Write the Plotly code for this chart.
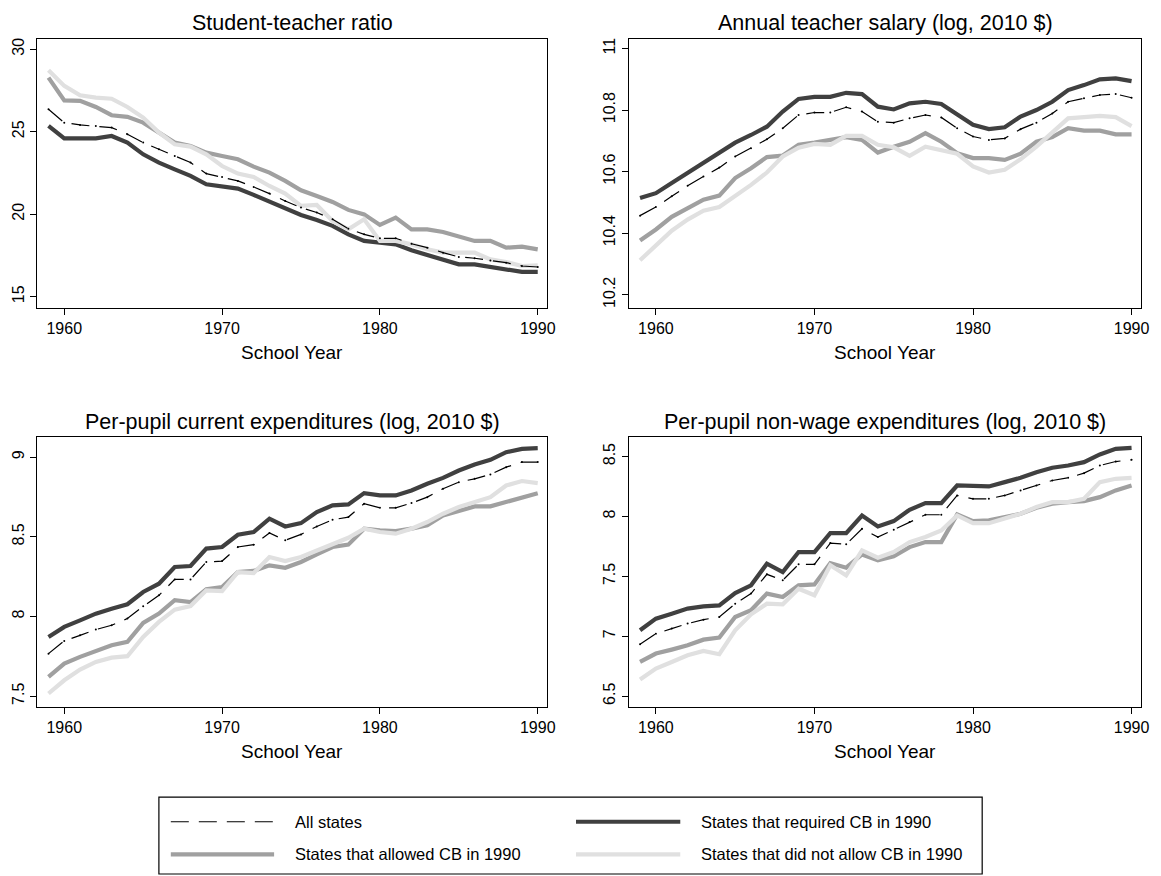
import plotly.graph_objects as go

years = list(range(1959, 1991))

series_names = ["All states", "States that required CB in 1990",
                "States that allowed CB in 1990", "States that did not allow CB in 1990"]

panel_titles = ["Student-teacher ratio", "Annual teacher salary (log, 2010 $)",
                "Per-pupil current expenditures (log, 2010 $)",
                "Per-pupil non-wage expenditures (log, 2010 $)"]
x_title = "School Year"
x_ticks = [1960, 1970, 1980, 1990]

y_ticks_1 = [15, 20, 25, 30]
y_ticks_2 = [10.2, 10.4, 10.6, 10.8, 11]
y_ticks_3 = [7.5, 8, 8.5, 9]
y_ticks_4 = [6.5, 7, 7.5, 8, 8.5]

# Panel 1: Student-teacher ratio
str_all = [26.36, 25.55, 25.41, 25.35, 25.25, 24.85, 24.34, 23.94, 23.53, 23.13, 22.46, 22.26,
           22.02, 21.65, 21.25, 20.80, 20.40, 20.10, 19.69, 19.12, 18.78, 18.54, 18.54, 18.21,
           17.97, 17.67, 17.41, 17.33, 17.20, 17.06, 16.86, 16.80]
str_req = [25.35, 24.60, 24.60, 24.60, 24.74, 24.34, 23.63, 23.13, 22.72, 22.32, 21.81, 21.71,
           21.55, 21.17, 20.76, 20.36, 19.95, 19.65, 19.29, 18.78, 18.38, 18.28, 18.17, 17.81,
           17.53, 17.20, 16.96, 16.96, 16.82, 16.66, 16.50, 16.50]
str_allow = [28.28, 26.90, 26.87, 26.50, 26.00, 25.90, 25.55, 24.95, 24.34, 24.14, 23.73, 23.53,
             23.33, 22.88, 22.52, 22.02, 21.45, 21.10, 20.74, 20.26, 19.99, 19.35, 19.79, 19.08,
             19.08, 18.92, 18.62, 18.38, 18.38, 17.97, 18.03, 17.87]
str_not = [28.73, 27.78, 27.21, 27.07, 27.00, 26.50, 25.86, 24.95, 24.24, 24.10, 23.63, 22.92,
           22.46, 22.26, 21.71, 21.25, 20.50, 20.56, 19.59, 19.08, 19.69, 18.38, 18.38, 18.17,
           17.87, 17.67, 17.67, 17.67, 17.26, 17.10, 16.86, 16.90]

# Panel 2: Annual teacher salary (log)
sal_all = [10.457, 10.485, 10.520, 10.554, 10.584, 10.613, 10.649, 10.676, 10.705, 10.741, 10.784,
           10.792, 10.792, 10.809, 10.795, 10.762, 10.759, 10.773, 10.784, 10.776, 10.741, 10.714,
           10.703, 10.708, 10.738, 10.759, 10.789, 10.827, 10.838, 10.849, 10.852, 10.840]
sal_req = [10.514, 10.530, 10.563, 10.595, 10.628, 10.660, 10.694, 10.719, 10.746, 10.795, 10.836,
           10.843, 10.843, 10.856, 10.852, 10.811, 10.802, 10.822, 10.827, 10.820, 10.784, 10.752,
           10.738, 10.744, 10.779, 10.800, 10.827, 10.865, 10.881, 10.900, 10.903, 10.894]
sal_allow = [10.376, 10.412, 10.453, 10.482, 10.509, 10.522, 10.579, 10.611, 10.647, 10.652, 10.687,
             10.694, 10.703, 10.712, 10.703, 10.662, 10.681, 10.697, 10.725, 10.697, 10.660, 10.644,
             10.644, 10.638, 10.658, 10.697, 10.712, 10.741, 10.733, 10.733, 10.721, 10.721]
sal_not = [10.312, 10.358, 10.408, 10.444, 10.473, 10.485, 10.520, 10.557, 10.597, 10.649, 10.678,
           10.690, 10.687, 10.716, 10.716, 10.687, 10.679, 10.651, 10.681, 10.671, 10.658, 10.617,
           10.597, 10.606, 10.640, 10.681, 10.725, 10.773, 10.777, 10.781, 10.777, 10.748]

# Panel 3: Per-pupil current expenditures (log)
cur_all = [7.767, 7.847, 7.882, 7.918, 7.945, 7.987, 8.064, 8.133, 8.233, 8.233, 8.342, 8.348,
           8.436, 8.451, 8.524, 8.478, 8.515, 8.565, 8.607, 8.624, 8.708, 8.682, 8.682, 8.712,
           8.749, 8.802, 8.843, 8.864, 8.891, 8.937, 8.969, 8.969]
cur_req = [7.872, 7.935, 7.976, 8.018, 8.049, 8.077, 8.154, 8.206, 8.311, 8.317, 8.426, 8.436,
           8.513, 8.530, 8.614, 8.565, 8.586, 8.655, 8.697, 8.703, 8.774, 8.760, 8.760, 8.791,
           8.833, 8.870, 8.916, 8.954, 8.983, 9.031, 9.052, 9.056]
cur_allow = [7.621, 7.705, 7.747, 7.784, 7.820, 7.841, 7.960, 8.018, 8.102, 8.091, 8.171, 8.185,
             8.279, 8.286, 8.321, 8.306, 8.342, 8.390, 8.436, 8.451, 8.551, 8.540, 8.536, 8.551,
             8.572, 8.634, 8.660, 8.691, 8.691, 8.718, 8.743, 8.774]
cur_not = [7.517, 7.600, 7.667, 7.715, 7.742, 7.751, 7.872, 7.966, 8.043, 8.066, 8.164, 8.160,
           8.279, 8.273, 8.373, 8.348, 8.373, 8.415, 8.453, 8.494, 8.551, 8.530, 8.520, 8.551,
           8.593, 8.645, 8.687, 8.718, 8.749, 8.822, 8.850, 8.837]

# Panel 4: Per-pupil non-wage expenditures (log)
nw_all = [6.933, 7.022, 7.064, 7.106, 7.139, 7.161, 7.272, 7.356, 7.517, 7.467, 7.600, 7.600,
          7.778, 7.767, 7.897, 7.828, 7.889, 7.953, 8.014, 8.014, 8.175, 8.147, 8.147, 8.175,
          8.217, 8.258, 8.300, 8.322, 8.361, 8.425, 8.458, 8.472]
nw_req = [7.050, 7.147, 7.189, 7.231, 7.250, 7.258, 7.361, 7.425, 7.606, 7.536, 7.703, 7.703,
          7.861, 7.861, 8.008, 7.917, 7.961, 8.056, 8.111, 8.111, 8.258, 8.250, 8.250, 8.286,
          8.322, 8.369, 8.406, 8.425, 8.453, 8.517, 8.564, 8.572]
nw_allow = [6.786, 6.856, 6.889, 6.925, 6.972, 6.989, 7.161, 7.217, 7.356, 7.328, 7.425, 7.433,
            7.611, 7.572, 7.683, 7.633, 7.667, 7.744, 7.786, 7.786, 8.017, 7.961, 7.967, 7.994,
            8.022, 8.072, 8.106, 8.119, 8.128, 8.161, 8.217, 8.258]
nw_not = [6.639, 6.731, 6.786, 6.842, 6.878, 6.850, 7.050, 7.183, 7.272, 7.267, 7.397, 7.342,
          7.592, 7.508, 7.717, 7.656, 7.703, 7.786, 7.828, 7.883, 8.008, 7.944, 7.944, 7.981,
          8.022, 8.078, 8.119, 8.119, 8.147, 8.286, 8.314, 8.322]

# ---------------------------------------------------------------- styling
W, H = 1161, 876
FONT = "Liberation Sans, Arial, Helvetica, sans-serif"
C_ALL, C_REQ, C_ALLOW, C_NOT = "#000000", "#404040", "#a0a0a0", "#e0e0e0"
THICK = 4.2
DASH = "18px,10px"


def px_x(px):
    return px / W


def px_y(py):
    return 1 - py / H


panels = [
    dict(data=[str_all, str_req, str_allow, str_not], yt=y_ticks_1, yr=[14.334, 30.642],
         xd=[37.7, 551], yd=[37.7, 307]),
    dict(data=[sal_all, sal_req, sal_allow, sal_not], yt=y_ticks_2, yr=[10.158, 11.032],
         xd=[633.3, 1149], yd=[37.7, 307]),
    dict(data=[cur_all, cur_req, cur_allow, cur_not], yt=y_ticks_3, yr=[7.433, 9.125],
         xd=[37.7, 551], yd=[436.7, 706.7]),
    dict(data=[nw_all, nw_req, nw_allow, nw_not], yt=y_ticks_4, yr=[6.411, 8.661],
         xd=[633.3, 1149], yd=[436.7, 706.7]),
]

fig = go.Figure()
layout = dict(width=W, height=H, margin=dict(l=0, r=0, t=0, b=0),
              paper_bgcolor="white", plot_bgcolor="white", showlegend=False,
              font=dict(family=FONT, color="black"))
annotations = []
shapes = []

axis_common = dict(showline=True, linecolor="black", linewidth=1.3, mirror=True,
                   ticks="outside", ticklen=6, tickwidth=1.1, tickcolor="black",
                   showgrid=False, zeroline=False,
                   tickfont=dict(family=FONT, size=16, color="black"))

for i, p in enumerate(panels):
    n = "" if i == 0 else str(i + 1)
    xa, ya = "x" + n, "y" + n
    all_v, req_v, allow_v, not_v = p["data"]
    # thick series first, dashed "All states" on top
    fig.add_trace(go.Scatter(x=years, y=req_v, mode="lines", name=series_names[1],
                             line=dict(color=C_REQ, width=THICK), xaxis=xa, yaxis=ya))
    fig.add_trace(go.Scatter(x=years, y=allow_v, mode="lines", name=series_names[2],
                             line=dict(color=C_ALLOW, width=THICK), xaxis=xa, yaxis=ya))
    fig.add_trace(go.Scatter(x=years, y=not_v, mode="lines", name=series_names[3],
                             line=dict(color=C_NOT, width=THICK), xaxis=xa, yaxis=ya))
    fig.add_trace(go.Scatter(x=years, y=all_v, mode="lines+markers", name=series_names[0],
                             line=dict(color=C_ALL, width=1.2, dash=DASH),
                             marker=dict(color=C_ALL, size=2),
                             xaxis=xa, yaxis=ya))

    x0, x1 = px_x(p["xd"][0]), px_x(p["xd"][1])
    y0, y1 = px_y(p["yd"][1]), px_y(p["yd"][0])
    layout["xaxis" + n] = dict(axis_common, domain=[x0, x1], range=[1958.3, 1990.6],
                               tickvals=x_ticks, ticktext=[str(v) for v in x_ticks],
                               anchor=ya)
    layout["yaxis" + n] = dict(axis_common, domain=[y0, y1], range=p["yr"],
                               tickvals=p["yt"], ticktext=[f"{v:g}" for v in p["yt"]],
                               tickangle=-90, anchor=xa)
    cx = (x0 + x1) / 2
    annotations.append(dict(text=panel_titles[i], x=cx, y=px_y(p["yd"][0] - 15.5),
                            xref="paper", yref="paper", xanchor="center", yanchor="middle",
                            showarrow=False, font=dict(family=FONT, size=21.5, color="black")))
    annotations.append(dict(text=x_title, x=cx, y=px_y(p["yd"][1] + 45),
                            xref="paper", yref="paper", xanchor="center", yanchor="middle",
                            showarrow=False, font=dict(family=FONT, size=19, color="black")))

# ---------------------------------------------------------------- legend (drawn box)
lg_x0, lg_x1, lg_y0, lg_y1 = 160, 989, 797, 874
shapes.append(dict(type="rect", xref="paper", yref="paper",
                   x0=px_x(lg_x0), x1=px_x(lg_x1), y0=px_y(lg_y1), y1=px_y(lg_y0),
                   line=dict(color="black", width=1.2), fillcolor="white"))
leg_items = [
    (series_names[0], C_ALL, 1.2, "dash", 172, 276, 295, 821.7),
    (series_names[1], C_REQ, THICK, None, 580, 685, 704, 821.7),
    (series_names[2], C_ALLOW, THICK, None, 172, 276, 295, 854.3),
    (series_names[3], C_NOT, THICK, None, 580, 685, 704, 854.3),
]
for name, col, w, dash, sx0, sx1, tx, yy in leg_items:
    ln = dict(color=col, width=w)
    if dash:
        ln["dash"] = DASH
    shapes.append(dict(type="line", xref="paper", yref="paper",
                       x0=px_x(sx0), x1=px_x(sx1), y0=px_y(yy), y1=px_y(yy), line=ln))
    annotations.append(dict(text=name, x=px_x(tx), y=px_y(yy), xref="paper", yref="paper",
                            xanchor="left", yanchor="middle", showarrow=False,
                            font=dict(family=FONT, size=16.5, color="black")))

layout["annotations"] = annotations
layout["shapes"] = shapes
fig.update_layout(**layout)
fig.write_html("out.html", config={"displayModeBar": False},
               post_script="document.body.style.margin='0px';document.body.style.overflow='hidden';")
